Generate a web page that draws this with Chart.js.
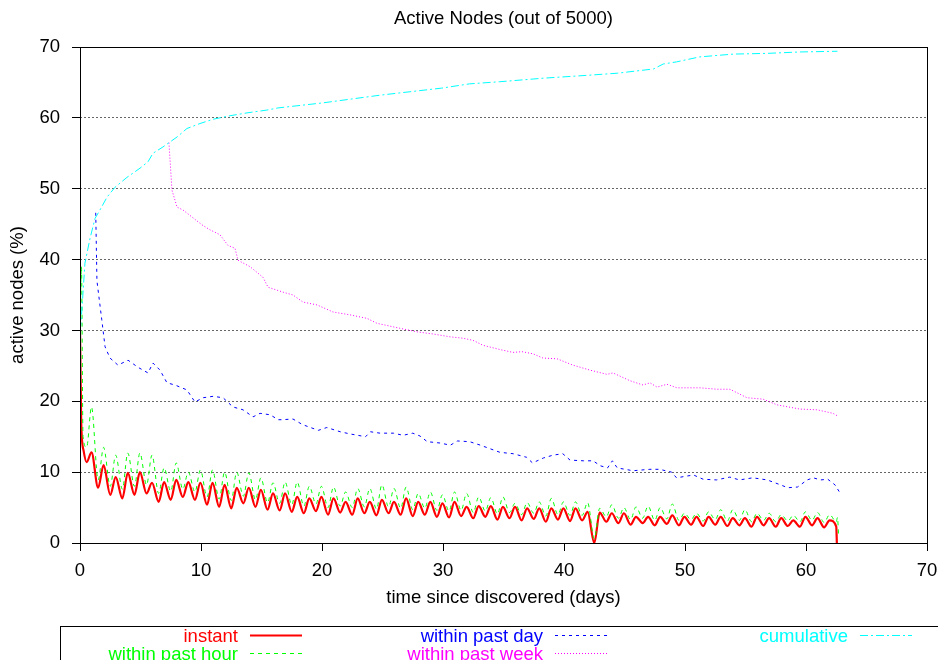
<!DOCTYPE html>
<html>
<head>
<meta charset="utf-8">
<script src="https://cdn.jsdelivr.net/npm/chart.js@4.4.1/dist/chart.umd.min.js"></script>
<style>
html,body{margin:0;padding:0;background:#fff;}
#wrap{width:938px;height:660px;}
</style>
</head>
<body>
<div id="wrap"><canvas id="chart" width="938" height="660"></canvas></div>
<script>
const FONT = "18.5px 'Liberation Sans', Arial, sans-serif";

const titleText = "Active Nodes (out of 5000)";
const xTitle = "time since discovered (days)";
const yTitle = "active nodes (%)";
const seriesNames = ["instant", "within past hour", "within past day", "within past week", "cumulative"];
const xTicks = [0, 10, 20, 30, 40, 50, 60, 70];
const yTicks = [0, 10, 20, 30, 40, 50, 60, 70];

// instant / hourly: first hours, then one peak (late in day d) and one trough (midday d+1) per day
const instantHead = [[0, 30], [0.1, 17], [0.3, 13], [0.55, 11.4]];
const instantPeaks = [12.8, 11.0, 9.3, 9.9, 10.0, 8.5, 8.6, 8.9, 8.6, 8.5, 8.5, 8.2, 7.8, 7.8,
  7.5, 7.0, 7.0, 6.5, 6.3, 6.5, 6.3, 5.8, 6.3, 5.8, 6.1, 5.8, 6.3, 5.8, 5.8, 5.6, 5.8, 5.1, 5.2, 5.2,
  5.1, 5.1, 4.9, 4.9, 4.9, 4.9, 4.9, 4.4, 4.3, 4.2, 4.2, 3.7, 3.7, 3.7, 3.9, 3.7, 3.7, 3.7, 3.7, 3.5,
  3.5, 3.7, 3.5, 3.5, 3.2, 3.7, 3.5, 3.2];
const instantTroughs = [7.8, 6.8, 6.3, 6.8, 7.0, 5.8, 6.1, 6.5, 6.1, 5.4, 5.1, 4.9, 5.6, 5.1, 4.7,
  4.6, 4.4, 4.2, 4.5, 4.0, 4.3, 4.0, 4.2, 3.9, 4.2, 4.0, 3.8, 4.0, 3.7, 3.6, 3.8, 3.5, 3.7, 3.3, 3.5,
  3.2, 3.4, 3.0, 3.3, 3.1, 3.2, 0.0, 3.0, 2.8, 2.6, 2.8, 2.5, 2.7, 2.5, 2.6, 2.4, 2.6, 2.4, 2.5, 2.3,
  2.5, 2.3, 2.4, 2.3, 2.5, 2.2, 2.3];
const instantTail = [[62.55, 0]];

const hourHead = [[0, 30], [0.12, 39], [0.25, 15], [0.55, 13.5]];
const hourPeaks = [19.2, 13.5, 12.4, 12.7, 12.7, 12.4, 10.6, 11.3, 10.0, 10.3, 10.3, 10.0, 10.0, 9.9,
  9.2, 8.5, 8.6, 8.6, 8.0, 8.0, 7.9, 7.2, 7.7, 7.7, 8.2, 7.7, 7.9, 7.0, 7.2, 6.8, 7.2, 7.0, 6.5, 6.4,
  6.5, 5.6, 5.7, 5.8, 6.3, 5.8, 5.8, 5.7, 4.9, 5.4, 5.0, 5.1, 5.2, 5.0, 5.5, 4.2, 4.2, 4.4, 4.7, 4.7,
  4.7, 4.2, 4.2, 4.0, 3.9, 4.4, 4.3, 4.0];
const hourTroughs = [8.9, 8.0, 7.6, 8.0, 8.2, 7.0, 7.3, 7.6, 7.2, 6.5, 6.2, 6.0, 6.6, 6.1, 5.7, 5.6,
  5.4, 5.2, 5.5, 5.0, 5.2, 5.0, 5.1, 4.8, 5.1, 4.9, 4.7, 4.9, 4.6, 4.5, 4.6, 4.3, 4.5, 4.1, 4.3, 4.0,
  4.2, 3.8, 4.0, 3.9, 3.9, 0.6, 3.7, 3.5, 3.3, 3.5, 3.2, 3.4, 3.2, 3.3, 3.1, 3.3, 3.1, 3.2, 3.0, 3.2,
  3.0, 3.1, 3.0, 3.2, 2.9, 3.0];
const hourTail = [[62.6, 3.6], [62.7, 0.8]];

const dayDays = [1.3, 1.4, 1.8, 2.07, 2.48, 3.14, 3.97, 4.79, 5.62, 6.03, 6.61, 7.19, 7.85, 8.84, 9.5,
  10.17, 11.0, 11.82, 12.64, 13.47, 14.3, 14.88, 15.7, 16.4, 16.7, 17.6, 18.4, 19.7, 20.4, 21.5, 22.3,
  23.6, 24.0, 24.8, 25.9, 26.7, 27.5, 28.1, 28.7, 29.8, 30.6, 31.2, 32.2, 33.1, 33.9, 34.7, 35.8, 36.9,
  37.4, 38.3, 39.1, 39.9, 40.5, 41.6, 42.4, 43.0, 43.6, 44.0, 44.4, 45.7, 47.1, 47.9, 48.9, 49.3, 50.7,
  51.5, 52.6, 53.7, 54.5, 55.6, 56.8, 57.9, 58.5, 59.3, 60.1, 60.6, 61.2, 61.8, 62.4, 62.8];
const dayVals = [46.6, 37, 31.5, 27.7, 26.1, 25.1, 25.8, 24.8, 24.0, 25.4, 24.4, 22.6, 22.3, 21.6, 19.9,
  20.5, 20.7, 20.5, 19.2, 18.8, 17.8, 18.3, 18.1, 17.4, 17.4, 17.5, 16.7, 15.9, 16.3, 15.7, 15.4,
  15.0, 15.7, 15.5, 15.5, 15.2, 15.5, 15.1, 14.3, 14.1, 13.8, 14.4, 14.3, 13.8, 13.3, 12.8, 12.6, 12.1,
  11.3, 12.0, 12.4, 12.6, 11.7, 11.6, 11.6, 10.9, 10.6, 11.6, 10.6, 10.2, 10.4, 10.4, 10.0, 9.2, 9.6,
  9.0, 8.9, 9.3, 8.9, 9.2, 8.9, 8.2, 7.8, 7.9, 8.9, 9.2, 8.9, 9.0, 8.2, 7.1];

const weekDays = [7.35, 7.6, 8.02, 8.51, 9.26, 10.08, 10.74, 11.57, 12.23, 12.81, 13.06, 14.05, 15.12,
  15.54, 16.78, 17.6, 18.43, 19.59, 20.91, 22.31, 23.72, 24.55, 26.45, 27.85, 29.17, 30.58, 31.65,
  32.48, 33.31, 34.71, 35.79, 36.53, 37.44, 38.26, 39.42, 40.74, 42.15, 43.55, 44.05, 45.45, 46.53,
  47.11, 47.69, 48.51, 49.34, 51.24, 52.64, 53.72, 54.3, 55.12, 56.45, 57.6, 59.5, 60.91, 62.23, 62.64];
const weekVals = [56.5, 49.8, 47.4, 47, 46, 44.9, 44.2, 43.5, 42, 41.6, 39.9, 39, 37.5, 36.1, 35.4,
  35, 34, 33.6, 32.6, 32.2, 31.7, 31, 30.3, 29.8, 29.5, 29.1, 28.9, 28.6, 27.9, 27.3, 26.9, 27.0,
  26.7, 26.1, 26, 25.1, 24.4, 23.8, 24, 22.9, 22.3, 22.6, 22.0, 22.4, 21.9, 21.9, 21.7, 21.7, 21.2,
  20.5, 20.3, 19.5, 18.9, 18.8, 18.3, 17.9];

const cumDays = [0, 0.08, 0.41, 0.83, 1.24, 1.65, 2.23, 2.89, 3.88, 4.96, 5.62, 6.03, 6.86, 7.44, 8.02,
  8.84, 9.92, 10.99, 12.4, 13.8, 15.45, 16.36, 20, 24.8, 29.9, 32.2, 34.7, 38.3, 41.9, 44.4, 47.4,
  48.2, 49.3, 51.2, 54.0, 56.8, 59.5, 62.6];
const cumVals = [30, 31, 39.5, 43, 45.8, 47, 48.8, 50.2, 51.6, 52.9, 53.8, 55, 55.9, 56.6, 57.3, 58.5,
  59.2, 59.8, 60.3, 60.7, 61.1, 61.4, 62.1, 63.2, 64.2, 64.8, 65.1, 65.6, 66.0, 66.3, 66.9, 67.6,
  67.9, 68.6, 69.0, 69.1, 69.3, 69.4];

function dailySeries(head, peaks, troughs, tail) {
  const pts = head.map(p => ({x: p[0], y: p[1]}));
  peaks.forEach((p, d) => {
    pts.push({x: d + 0.95, y: p});
    pts.push({x: d + 1.5, y: troughs[d]});
  });
  tail.forEach(p => pts.push({x: p[0], y: p[1]}));
  return pts;
}
function zipSeries(xs, ys) {
  return xs.map((x, i) => ({x: x, y: ys[i]}));
}

const colors = ["#ff0000", "#00ff00", "#0000ff", "#ff00ff", "#00ffff"];
const dashes = [[], [4, 4], [3, 4], [1, 2], [8, 3, 2, 3]];
const widths = [2.2, 1, 1, 1, 1];
const seriesData = [
  dailySeries(instantHead, instantPeaks, instantTroughs, instantTail),
  dailySeries(hourHead, hourPeaks, hourTroughs, hourTail),
  zipSeries(dayDays, dayVals),
  zipSeries(weekDays, weekVals),
  zipSeries(cumDays, cumVals)
];

const datasets = seriesNames.map((name, i) => ({
  label: name,
  data: seriesData[i],
  borderColor: colors[i],
  backgroundColor: colors[i],
  borderDash: dashes[i],
  borderWidth: widths[i],
  pointRadius: 0,
  tension: i < 2 ? 0.4 : 0,
  cubicInterpolationMode: i < 2 ? "monotone" : "default",
  fill: false,
  order: 4 - i
}));

/* frame, title, axis titles and the boxed legend, gnuplot style */
const decorations = {
  id: "decorations",
  afterDatasetsDraw(chart) {
    const ctx = chart.ctx;
    const a = chart.chartArea;
    ctx.save();
    ctx.strokeStyle = "#000";
    ctx.lineWidth = 1;
    ctx.setLineDash([]);
    ctx.strokeRect(a.left + 0.5, a.top + 0.5, a.right - a.left, a.bottom - a.top);

    ctx.fillStyle = "#000";
    ctx.font = FONT;
    ctx.textAlign = "center";
    ctx.textBaseline = "middle";
    const cx = (a.left + a.right) / 2;
    ctx.fillText(titleText, cx, 19);
    ctx.fillText(xTitle, cx, 598);
    ctx.save();
    ctx.translate(18, (a.top + a.bottom) / 2);
    ctx.rotate(-Math.PI / 2);
    ctx.fillText(yTitle, 0, 0);
    ctx.restore();

    // legend box (runs past the bottom of the canvas)
    ctx.strokeStyle = "#000";
    ctx.lineWidth = 1;
    ctx.strokeRect(60.5, 626.5, 900, 60);
    ctx.textAlign = "right";
    ctx.textBaseline = "alphabetic";
    seriesNames.forEach((name, i) => {
      const col = Math.floor(i / 2);
      const row = i % 2;
      const right = 238 + col * 305;
      const base = 642 + row * 18;
      ctx.fillStyle = colors[i];
      ctx.fillText(name, right, base);
      ctx.strokeStyle = colors[i];
      ctx.lineWidth = widths[i];
      ctx.setLineDash(dashes[i]);
      ctx.beginPath();
      ctx.moveTo(right + 12, base - 6.5);
      ctx.lineTo(right + 64, base - 6.5);
      ctx.stroke();
      ctx.setLineDash([]);
    });
    ctx.restore();
  }
};

new Chart(document.getElementById("chart").getContext("2d"), {
  type: "line",
  data: {datasets: datasets},
  options: {
    responsive: false,
    animation: false,
    devicePixelRatio: 1,
    layout: {padding: {left: 0, top: 47, right: 11, bottom: 0}},
    plugins: {legend: {display: false}, title: {display: false}, tooltip: {enabled: false}},
    scales: {
      x: {
        type: "linear",
        min: 0,
        max: 70,
        afterBuildTicks: s => { s.ticks = xTicks.map(v => ({value: v})); },
        afterFit: s => { s.height = 117; s.paddingLeft = 0; s.paddingRight = 0; },
        border: {display: false},
        grid: {drawOnChartArea: false, tickLength: 8, tickColor: "#000", lineWidth: 1},
        ticks: {color: "#000", font: {family: "'Liberation Sans', Arial, sans-serif", size: 18.5}, padding: 9, maxRotation: 0}
      },
      y: {
        min: 0,
        max: 70,
        afterBuildTicks: s => { s.ticks = yTicks.map(v => ({value: v})); },
        afterFit: s => { s.width = 80; s.paddingTop = 0; s.paddingBottom = 0; },
        border: {display: false, dash: [2, 2]},
        grid: {
          color: c => (c.tick && (c.tick.value === 0 || c.tick.value === 70)) ? "rgba(0,0,0,0)" : "#666",
          tickBorderDash: [],
          tickLength: 8,
          tickColor: "#000",
          lineWidth: 1
        },
        ticks: {color: "#000", font: {family: "'Liberation Sans', Arial, sans-serif", size: 18.5}, padding: 12}
      }
    }
  },
  plugins: [decorations]
});
</script>
</body>
</html>
